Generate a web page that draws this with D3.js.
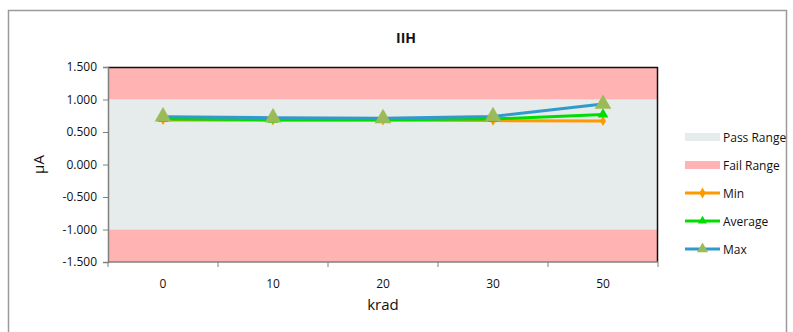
<!DOCTYPE html>
<html>
<head>
<meta charset="utf-8">
<script src="https://cdn.jsdelivr.net/npm/d3@7"></script>
<style>
  body { margin: 0; background: #fff; }
  svg { display: block; font-family: "Open Sans", Lato, "Liberation Sans", Arial, sans-serif; }
</style>
</head>
<body>
<svg id="chart" width="793" height="332"></svg>
<script>
const categories = ["0", "10", "20", "30", "50"];
const minValues = [0.685, 0.68, 0.68, 0.675, 0.67];
const avgValues = [0.70, 0.69, 0.69, 0.70, 0.77];
const maxValues = [0.735, 0.72, 0.71, 0.74, 0.93];
const passRange = [-1.0, 1.0];
const failRanges = [[1.0, 1.5], [-1.5, -1.0]];
const yTicks = [1.5, 1.0, 0.5, 0.0, -0.5, -1.0, -1.5];
const legendLabels = ["Pass Range", "Fail Range", "Min", "Average", "Max"];

const svg = d3.select("#chart");
const plot = { left: 108, right: 658, top: 67, bottom: 262 };

// outer frame
svg.append("rect").attr("x", 8.5).attr("y", 10.5).attr("width", 778).attr("height", 340)
  .attr("fill", "#fff").attr("stroke", "#9a9a9a").attr("stroke-width", 1.5);

const x = d3.scaleBand().domain(categories).range([plot.left, plot.right]).padding(0);
const y = d3.scaleLinear().domain([-1.5, 1.5]).range([plot.bottom, plot.top]);

// bands
svg.append("rect").attr("x", plot.left).attr("width", plot.right - plot.left)
  .attr("y", y(passRange[1])).attr("height", y(passRange[0]) - y(passRange[1]))
  .attr("fill", "#e6ebeb");
failRanges.forEach(r => {
  svg.append("rect").attr("x", plot.left).attr("width", plot.right - plot.left)
    .attr("y", y(r[1])).attr("height", y(r[0]) - y(r[1]))
    .attr("fill", "#ffb3b3");
});

// plot border top/right black
svg.append("path")
  .attr("d", `M${plot.left},${plot.top + 0.5}H${plot.right - 0.5}V${plot.bottom}`)
  .attr("fill", "none").attr("stroke", "#111").attr("stroke-width", 1.5);

// Y axis
const fmt = d3.format(".3f");
const yAxis = d3.axisLeft(y).tickValues(yTicks).tickSize(5);
const gy = svg.append("g").attr("transform", `translate(${plot.left},0)`).call(yAxis);
gy.attr("font-family", null);
gy.select(".domain").attr("stroke", "#808080").attr("stroke-width", 1.5);
gy.selectAll(".tick line").attr("stroke", "#808080");
gy.selectAll(".tick text").attr("font-size", 12).attr("fill", "#111").attr("dx", -3)
  .text(d => d < 0 ? "-" + fmt(-d) : fmt(d));

// X axis
const gx = svg.append("g").attr("transform", `translate(0,${plot.bottom})`);
gx.append("line").attr("x1", plot.left).attr("x2", plot.right).attr("y1", 0).attr("y2", 0)
  .attr("stroke", "#808080").attr("stroke-width", 1.5);
const edges = categories.map(c => x(c)).concat([plot.right]);
gx.selectAll("line.tk").data(edges).enter().append("line").attr("class", "tk")
  .attr("x1", d => d).attr("x2", d => d).attr("y1", 0).attr("y2", 5).attr("stroke", "#808080");
gx.selectAll("text").data(categories).enter().append("text")
  .attr("x", d => x(d) + x.bandwidth() / 2).attr("y", 26)
  .attr("text-anchor", "middle").attr("font-size", 12).attr("fill", "#111").text(d => d);

// titles
svg.append("text").attr("x", 406).attr("y", 43).attr("text-anchor", "middle")
  .attr("font-size", 14).attr("font-weight", "bold").attr("fill", "#111").text("IIH");
svg.append("text").attr("x", 383).attr("y", 310).attr("text-anchor", "middle")
  .attr("font-size", 15).attr("fill", "#111").text("krad");
svg.append("text").attr("transform", `translate(44,${y(0)}) rotate(-90)`)
  .attr("text-anchor", "middle").attr("font-size", 15).attr("fill", "#111").text("µA");

const cx = c => x(c) + x.bandwidth() / 2;
const line = d3.line().x((d, i) => cx(categories[i])).y(d => y(d));

const series = [
  { vals: minValues, color: "#ff9900", marker: "diamond", mcolor: "#ff9900", msize: 30 },
  { vals: avgValues, color: "#00dd00", marker: "triangle", mcolor: "#00dd00", msize: 50 },
  { vals: maxValues, color: "#3399cc", marker: "triangle", mcolor: "#9bbb59", msize: 120 }
];
const sym = { diamond: d3.symbolDiamond, triangle: d3.symbolTriangle };

series.forEach(s => {
  svg.append("path").datum(s.vals).attr("d", line)
    .attr("fill", "none").attr("stroke", s.color).attr("stroke-width", 3).attr("stroke-linejoin", "round");
});
series.forEach(s => {
  svg.append("g").selectAll("path").data(s.vals).enter().append("path")
    .attr("transform", (d, i) => `translate(${cx(categories[i])},${y(d)})`)
    .attr("d", d3.symbol().type(sym[s.marker]).size(s.msize))
    .attr("fill", s.mcolor);
});

// legend
const lx = 685, lw = 35, ly0 = 137, lstep = 28;
const lg = svg.append("g");
legendLabels.forEach((lab, i) => {
  const yy = ly0 + i * lstep;
  if (i === 0) {
    lg.append("rect").attr("x", lx).attr("y", yy - 4).attr("width", lw).attr("height", 8).attr("fill", "#e6ebeb");
  } else if (i === 1) {
    lg.append("rect").attr("x", lx).attr("y", yy - 4).attr("width", lw).attr("height", 8).attr("fill", "#ffb3b3");
  } else {
    const s = series[i - 2];
    lg.append("line").attr("x1", lx).attr("x2", lx + lw).attr("y1", yy).attr("y2", yy)
      .attr("stroke", s.color).attr("stroke-width", 3);
    lg.append("path").attr("transform", `translate(${lx + lw / 2},${yy})`)
      .attr("d", d3.symbol().type(sym[s.marker]).size(i === 4 ? 55 : 35)).attr("fill", s.mcolor);
  }
  lg.append("text").attr("x", lx + lw + 3).attr("y", yy + 4.5).attr("font-size", 12)
    .attr("fill", "#111").text(lab);
});
</script>
</body>
</html>
